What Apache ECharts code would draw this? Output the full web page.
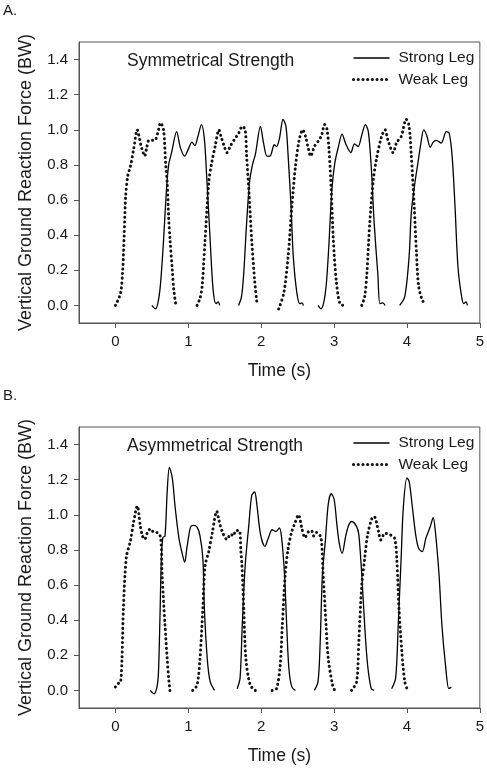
<!DOCTYPE html>
<html>
<head>
<meta charset="utf-8">
<script src="https://cdn.jsdelivr.net/npm/echarts@6/dist/echarts.min.js"></script>
<style>
html,body{margin:0;padding:0;background:#fff;}
#chart{width:487px;height:770px;}
</style>
</head>
<body>
<div id="chart"></div>
<script>
// ---- Data (time s, force BW) ----
var xTicks = [0, 1, 2, 3, 4, 5];
var yTicks = [0, 0.2, 0.4, 0.6, 0.8, 1.0, 1.2, 1.4];
var seriesNames = ['Strong Leg', 'Weak Leg'];
var panelTitles = ['Symmetrical Strength', 'Asymmetrical Strength'];
var panelLetters = ['A.', 'B.'];

// Panel A – Symmetrical Strength
var symStrong1 = [[0.50,0],[0.55,-0.02],[0.59,0.03],[0.62,0.13],[0.66,0.37],[0.70,0.66],[0.73,0.8],[0.77,0.87],[0.84,0.99],[0.89,0.9],[0.95,0.85],[1.0,0.89],[1.05,0.93],[1.09,0.91],[1.13,0.96],[1.18,1.03],[1.22,0.95],[1.25,0.75],[1.30,0.37],[1.34,0.09],[1.38,0.01],[1.41,0.02],[1.43,0]];
var symStrong2 = [[1.69,0],[1.73,0.05],[1.76,0.18],[1.80,0.47],[1.84,0.70],[1.88,0.8],[1.92,0.86],[1.99,1.02],[2.03,0.93],[2.08,0.85],[2.12,0.85],[2.18,0.915],[2.21,0.905],[2.25,0.95],[2.30,1.06],[2.34,1.02],[2.37,0.85],[2.41,0.56],[2.44,0.28],[2.49,0.07],[2.53,0.01],[2.56,0.015],[2.58,0]];
var symStrong3 = [[2.78,0],[2.82,-0.02],[2.88,0.07],[2.92,0.28],[2.97,0.66],[3.01,0.81],[3.06,0.905],[3.11,0.975],[3.16,0.92],[3.23,0.87],[3.28,0.92],[3.33,0.905],[3.38,0.97],[3.43,1.03],[3.47,0.99],[3.51,0.79],[3.55,0.47],[3.60,0.18],[3.63,0.01],[3.67,0.015],[3.70,0]];
var symStrong4 = [[3.90,0],[3.97,0.05],[4.03,0.28],[4.06,0.53],[4.11,0.70],[4.15,0.81],[4.19,0.92],[4.23,1.0],[4.27,0.97],[4.32,0.90],[4.36,0.93],[4.40,0.94],[4.47,0.925],[4.54,0.99],[4.58,0.98],[4.62,0.85],[4.66,0.56],[4.70,0.22],[4.75,0.05],[4.78,0.01],[4.81,0.02],[4.83,0]];
var symWeak1 = [[0,0],[0.07,0.07],[0.10,0.2],[0.12,0.4],[0.14,0.62],[0.17,0.74],[0.205,0.79],[0.25,0.89],[0.30,1.0],[0.32,0.97],[0.35,0.91],[0.38,0.87],[0.40,0.85],[0.43,0.9],[0.46,0.94],[0.50,0.94],[0.54,0.94],[0.58,0.98],[0.62,1.04],[0.66,1.0],[0.69,0.8],[0.71,0.7],[0.73,0.5],[0.75,0.37],[0.78,0.2],[0.80,0.09],[0.83,0]];
var symWeak2 = [[1.12,0],[1.16,0.04],[1.19,0.11],[1.23,0.37],[1.28,0.70],[1.32,0.81],[1.37,0.91],[1.42,1.0],[1.45,0.96],[1.49,0.91],[1.53,0.87],[1.58,0.91],[1.64,0.95],[1.69,0.98],[1.74,1.02],[1.78,1.0],[1.80,0.85],[1.83,0.66],[1.87,0.37],[1.91,0.14],[1.94,0.02]];
var symWeak3 = [[2.24,-0.02],[2.31,0.07],[2.37,0.28],[2.42,0.56],[2.47,0.79],[2.52,0.94],[2.57,1.0],[2.61,0.96],[2.64,0.905],[2.68,0.85],[2.73,0.905],[2.79,0.94],[2.83,0.97],[2.87,1.03],[2.90,1.01],[2.93,0.89],[2.96,0.66],[2.99,0.37],[3.03,0.14],[3.08,0.01],[3.13,0]];
var symWeak4 = [[3.38,0],[3.42,0.05],[3.45,0.18],[3.49,0.47],[3.54,0.72],[3.58,0.83],[3.65,0.96],[3.70,1.0],[3.74,0.94],[3.81,0.87],[3.86,0.93],[3.92,0.96],[3.99,1.06],[4.03,1.02],[4.06,0.85],[4.10,0.56],[4.13,0.30],[4.16,0.11],[4.21,0.03],[4.25,0.01]];

// Panel B – Asymmetrical Strength
var asymStrong1 = [[0.48,0],[0.53,-0.02],[0.57,0.02],[0.59,0.1],[0.61,0.4],[0.63,0.75],[0.65,0.87],[0.68,0.88],[0.71,1.13],[0.74,1.27],[0.78,1.21],[0.82,1.04],[0.87,0.87],[0.91,0.79],[0.95,0.73],[0.98,0.81],[1.03,0.93],[1.07,0.94],[1.12,0.93],[1.16,0.88],[1.20,0.75],[1.22,0.47],[1.26,0.18],[1.30,0.05],[1.36,0.0]];
var asymStrong2 = [[1.67,0.01],[1.71,0.07],[1.74,0.37],[1.78,0.71],[1.83,0.94],[1.87,1.11],[1.91,1.13],[1.94,1.06],[1.99,0.89],[2.05,0.82],[2.10,0.87],[2.15,0.915],[2.20,0.905],[2.25,0.925],[2.28,0.87],[2.32,0.66],[2.35,0.37],[2.38,0.125],[2.42,0.02],[2.47,0]];
var asymStrong3 = [[2.73,0],[2.78,0.05],[2.81,0.28],[2.84,0.66],[2.88,0.85],[2.92,1.06],[2.96,1.12],[3.0,1.09],[3.04,0.94],[3.07,0.84],[3.11,0.78],[3.16,0.88],[3.20,0.94],[3.24,0.962],[3.31,0.933],[3.34,0.886],[3.38,0.66],[3.42,0.37],[3.46,0.145],[3.51,0.01],[3.55,0]];
var asymStrong4 = [[3.79,0.01],[3.845,0.07],[3.88,0.37],[3.92,0.75],[3.95,1.04],[4.0,1.21],[4.03,1.19],[4.07,1.06],[4.12,0.886],[4.16,0.81],[4.21,0.79],[4.26,0.867],[4.32,0.933],[4.36,0.984],[4.39,0.905],[4.44,0.66],[4.48,0.37],[4.53,0.14],[4.575,0.01],[4.61,0.02]];
var asymWeak1 = [[0,0.02],[0.04,0.04],[0.07,0.045],[0.09,0.18],[0.11,0.47],[0.15,0.76],[0.205,0.85],[0.25,0.96],[0.30,1.05],[0.34,0.94],[0.37,0.88],[0.40,0.86],[0.44,0.9],[0.48,0.92],[0.53,0.9],[0.57,0.9],[0.62,0.87],[0.64,0.66],[0.68,0.37],[0.71,0.18],[0.73,0.07],[0.75,-0.01]];
var asymWeak2 = [[1.06,0],[1.12,0.03],[1.16,0.18],[1.20,0.47],[1.23,0.71],[1.28,0.79],[1.33,0.90],[1.39,1.02],[1.42,0.97],[1.46,0.91],[1.53,0.86],[1.58,0.89],[1.62,0.88],[1.65,0.91],[1.70,0.91],[1.72,0.8],[1.735,0.715],[1.76,0.47],[1.79,0.18],[1.85,0.03],[1.92,0]];
var asymWeak3 = [[2.15,0],[2.21,0.01],[2.26,0.14],[2.29,0.37],[2.33,0.66],[2.37,0.81],[2.42,0.905],[2.47,0.96],[2.51,1.0],[2.56,0.92],[2.60,0.87],[2.65,0.905],[2.69,0.91],[2.72,0.88],[2.76,0.9],[2.82,0.87],[2.85,0.66],[2.89,0.37],[2.92,0.18],[2.98,0.03],[3.01,0]];
var asymWeak4 = [[3.24,0],[3.31,0.05],[3.34,0.28],[3.38,0.60],[3.42,0.75],[3.46,0.886],[3.52,0.98],[3.55,0.99],[3.61,0.905],[3.64,0.857],[3.70,0.895],[3.77,0.886],[3.83,0.867],[3.86,0.75],[3.89,0.47],[3.93,0.22],[3.97,0.05],[4.01,0]];

// join stances with gaps
function joinStances(list) {
  var out = [];
  list.forEach(function (s, i) {
    if (i > 0) out.push([s[0][0] - 0.001, '-']);
    out = out.concat(s);
  });
  return out;
}

var panels = [
  { strong: joinStances([symStrong1, symStrong2, symStrong3, symStrong4]),
    weak: joinStances([symWeak1, symWeak2, symWeak3, symWeak4]) },
  { strong: joinStances([asymStrong1, asymStrong2, asymStrong3, asymStrong4]),
    weak: joinStances([asymWeak1, asymWeak2, asymWeak3, asymWeak4]) }
];

var FONT = '"Liberation Sans", Arial, sans-serif';
var TXT = '#1a1a1a';
var FRAME = '#555';
var tops = [42, 427];
var strongLine = {color: '#000', width: 1.3};
var weakLine = {color: '#111', width: 3, type: [0.1, 4.6], cap: 'round'};

var chart = echarts.init(document.getElementById('chart'), null, {renderer: 'canvas'});

var grids = [], xAxes = [], yAxes = [], series = [], titles = [], legends = [];
tops.forEach(function (top, i) {
  grids.push({left: 79, top: top, width: 401, height: 281, show: true,
    borderColor: FRAME, borderWidth: 1, backgroundColor: 'transparent'});
  xAxes.push({
    type: 'value', gridIndex: i, min: -0.5, max: 5,
    name: 'Time (s)', nameLocation: 'middle', nameGap: 39,
    nameTextStyle: {fontFamily: FONT, fontSize: 17.5, color: TXT},
    axisLine: {show: true, onZero: false, lineStyle: {color: FRAME, width: 1}},
    axisTick: {show: true, length: 5, customValues: xTicks, lineStyle: {color: FRAME}},
    axisLabel: {customValues: xTicks, margin: 11, fontFamily: FONT, fontSize: 15, color: TXT},
    splitLine: {show: false}
  });
  yAxes.push({
    type: 'value', gridIndex: i, min: -0.1, max: 1.5,
    name: 'Vertical Ground Reaction Force (BW)', nameLocation: 'middle', nameGap: 44,
    nameTextStyle: {fontFamily: FONT, fontSize: 18, color: TXT},
    axisLine: {show: true, onZero: false, lineStyle: {color: FRAME, width: 1}},
    axisTick: {show: true, length: 5, customValues: yTicks, lineStyle: {color: FRAME}},
    axisLabel: {customValues: yTicks, margin: 11, fontFamily: FONT, fontSize: 15, color: TXT,
      formatter: function (v) { return v.toFixed(1); }},
    splitLine: {show: false}
  });
  series.push({
    name: seriesNames[0], type: 'line', xAxisIndex: i, yAxisIndex: i,
    data: panels[i].strong, symbol: 'none', showSymbol: false, smooth: 0.3,
    connectNulls: false, lineStyle: strongLine, itemStyle: {color: '#000'}
  });
  series.push({
    name: seriesNames[1], type: 'line', xAxisIndex: i, yAxisIndex: i,
    data: panels[i].weak, symbol: 'none', showSymbol: false, smooth: 0.3,
    connectNulls: false, lineStyle: weakLine, itemStyle: {color: '#111'}
  });
  titles.push({text: panelTitles[i], left: 127, top: top + 10, padding: 0,
    textStyle: {fontFamily: FONT, fontSize: 17.5, fontWeight: 'normal', color: TXT}});
  titles.push({text: panelLetters[i], left: 3, top: top - 39, padding: 0,
    textStyle: {fontFamily: FONT, fontSize: 15, fontWeight: 'normal', color: TXT}});
  legends.push({
    data: [
      {name: seriesNames[0], lineStyle: {width: 1.5}},
      {name: seriesNames[1], lineStyle: {width: 3}}
    ],
    orient: 'vertical', left: 352, top: top + 8, padding: 0,
    itemWidth: 36, itemHeight: 14, itemGap: 5.5, selectedMode: false,
    itemStyle: {color: 'rgba(0,0,0,0)', borderColor: 'rgba(0,0,0,0)', borderWidth: 0, opacity: 0},
    textStyle: {fontFamily: FONT, fontSize: 15.5, color: TXT, padding: [0, 0, 0, 4]}
  });
});

chart.setOption({
  animation: false,
  backgroundColor: '#fff',
  title: titles,
  legend: legends,
  grid: grids,
  xAxis: xAxes,
  yAxis: yAxes,
  series: series
});
</script>
</body>
</html>
